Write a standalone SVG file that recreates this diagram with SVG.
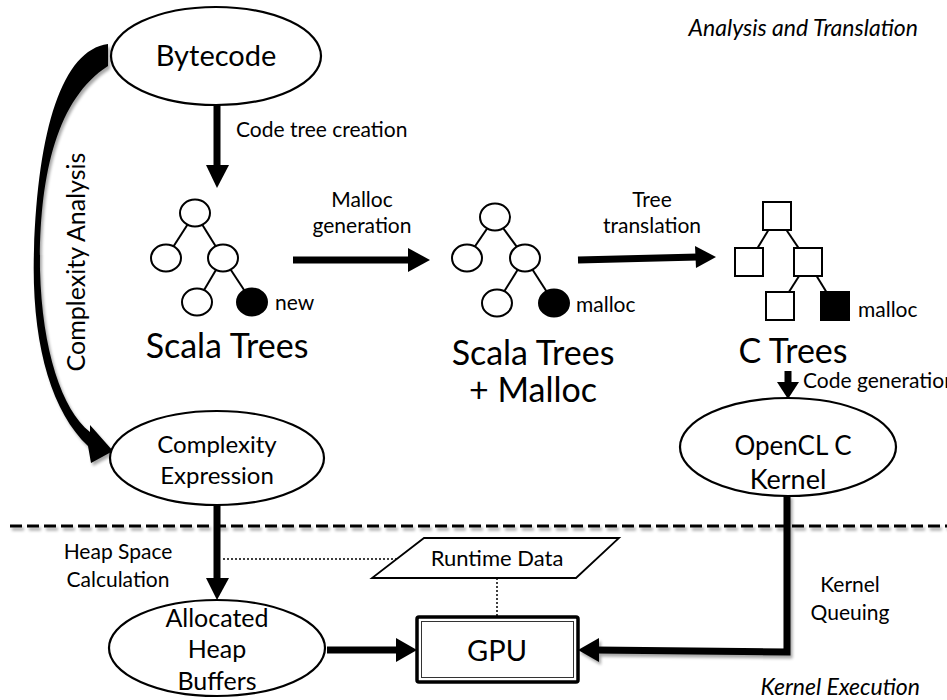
<svg xmlns="http://www.w3.org/2000/svg" width="947" height="700" viewBox="0 0 947 700">
  <style>
    text { font-family: Lato, "Open Sans", "Liberation Sans", sans-serif; fill: #000; }
    .node { fill: #fff; stroke: #000; stroke-width: 2.2; }
    .lbl { font-size: 21px; }
    .big { font-size: 34px; }
    .ttl { font-size: 23px; font-style: italic; }
    .tree { stroke: #000; stroke-width: 2; }
    .leaf { fill: #fff; stroke: #000; stroke-width: 2; }
    .full { fill: #000; stroke: #000; stroke-width: 2; }
    .shaft { stroke: #000; stroke-width: 7; fill: none; }
    .head { fill: #000; }
    .dot { stroke: #000; stroke-width: 1.5; stroke-dasharray: 2 2; fill: none; }
  </style>
  <defs>
    <!-- soft drop shadow used on the separator and the long connectors -->
    <filter id="shadow" filterUnits="userSpaceOnUse" x="0" y="0" width="947" height="700">
      <feGaussianBlur in="SourceAlpha" stdDeviation="1.5"/>
      <feOffset dx="2" dy="2.5" result="off"/>
      <feComponentTransfer><feFuncA type="linear" slope="0.35"/></feComponentTransfer>
      <feMerge><feMergeNode/><feMergeNode in="SourceGraphic"/></feMerge>
    </filter>
  </defs>

  <!-- section titles and separator -->
  <text class="ttl" x="918" y="36" text-anchor="end">Analysis and Translation</text>
  <text class="ttl" x="920" y="695" text-anchor="end">Kernel Execution</text>
  <line x1="10" y1="526" x2="947" y2="526" stroke="#000" stroke-width="3" stroke-dasharray="12 5" filter="url(#shadow)"/>

  <g id="connectors">
    <!-- Bytecode -> Scala Trees -->
    <line class="shaft" x1="217" y1="105" x2="217" y2="168"/>
    <polygon class="head" points="206,165 229,165 217,188"/>
    <text class="lbl" x="236" y="137">Code tree creation</text>

    <!-- Scala Trees -> Scala Trees + Malloc -->
    <line class="shaft" x1="293" y1="260" x2="410" y2="260"/>
    <polygon class="head" points="408,248 408,272 430,260"/>
    <text class="lbl" x="362" y="207" text-anchor="middle">Malloc</text>
    <text class="lbl" x="362" y="233" text-anchor="middle">generation</text>

    <!-- Scala Trees + Malloc -> C Trees -->
    <line class="shaft" x1="578" y1="260" x2="698" y2="257"/>
    <polygon class="head" points="695,246 696,268 716,257"/>
    <text class="lbl" x="652" y="207" text-anchor="middle">Tree</text>
    <text class="lbl" x="652" y="233" text-anchor="middle">translation</text>

    <!-- C Trees -> OpenCL C Kernel -->
    <line class="shaft" x1="788" y1="371" x2="788" y2="384"/>
    <polygon class="head" points="777,382 799,382 788,399"/>
    <text class="lbl" x="803" y="388">Code generation</text>

    <!-- Bytecode -> Complexity Expression (curved, tapered) -->
    <path class="head" filter="url(#shadow)" d="M108,44 C62,50 38,130 34,250 C31,340 50,410 88,446 L91,463 L113,451 L90,425 L90,432 C62,410 42,350 40,270 C39,180 55,100 108,66 Z"/>
    <text transform="translate(85,262) rotate(-90)" text-anchor="middle" style="font-size:25px">Complexity Analysis</text>

    <!-- Complexity Expression -> Allocated Heap Buffers -->
    <line class="shaft" x1="217" y1="505" x2="217" y2="580"/>
    <polygon class="head" points="206,578 229,578 217,600"/>
    <text class="lbl" x="118" y="559" text-anchor="middle">Heap Space</text>
    <text class="lbl" x="118" y="587" text-anchor="middle">Calculation</text>

    <!-- runtime data links -->
    <line class="dot" x1="223" y1="559" x2="397" y2="559"/>
    <line class="dot" x1="497" y1="578" x2="497" y2="617"/>

    <!-- Allocated Heap Buffers -> GPU -->
    <line class="shaft" x1="327" y1="650" x2="398" y2="650"/>
    <polygon class="head" points="396,638 396,662 417,650"/>

    <!-- OpenCL C Kernel -> GPU -->
    <g filter="url(#shadow)">
      <polyline class="shaft" points="787,495 787,652 596,650"/>
      <polygon class="head" points="599,638 599,662 578,650"/>
    </g>
    <text class="lbl" x="850" y="592" text-anchor="middle">Kernel</text>
    <text class="lbl" x="850" y="620" text-anchor="middle">Queuing</text>
  </g>

  <g id="bytecode">
    <ellipse class="node" cx="216" cy="56" rx="105" ry="49"/>
    <text x="216" y="66" text-anchor="middle" style="font-size:29px">Bytecode</text>
  </g>

  <g id="scala-trees">
    <line class="tree" x1="195" y1="213" x2="166" y2="258"/>
    <line class="tree" x1="195" y1="213" x2="223" y2="258"/>
    <line class="tree" x1="223" y1="258" x2="197" y2="302"/>
    <line class="tree" x1="223" y1="258" x2="252" y2="302"/>
    <ellipse class="leaf" cx="195" cy="213" rx="15" ry="13.5"/>
    <ellipse class="leaf" cx="166" cy="258" rx="15" ry="13.5"/>
    <ellipse class="leaf" cx="223" cy="258" rx="15" ry="13.5"/>
    <ellipse class="leaf" cx="197" cy="302" rx="15" ry="13.5"/>
    <ellipse class="full" cx="252" cy="302" rx="15" ry="13.5"/>
    <text class="lbl" x="275" y="310">new</text>
    <text class="big" x="227" y="358" text-anchor="middle">Scala Trees</text>
  </g>

  <g id="scala-trees-malloc">
    <line class="tree" x1="495" y1="217" x2="467" y2="258"/>
    <line class="tree" x1="495" y1="217" x2="525" y2="258"/>
    <line class="tree" x1="525" y1="258" x2="497" y2="303"/>
    <line class="tree" x1="525" y1="258" x2="554" y2="303"/>
    <ellipse class="leaf" cx="495" cy="217" rx="15" ry="13.5"/>
    <ellipse class="leaf" cx="467" cy="258" rx="15" ry="13.5"/>
    <ellipse class="leaf" cx="525" cy="258" rx="15" ry="13.5"/>
    <ellipse class="leaf" cx="497" cy="303" rx="15" ry="13.5"/>
    <ellipse class="full" cx="554" cy="303" rx="15" ry="13.5"/>
    <text class="lbl" x="576" y="312">malloc</text>
    <text class="big" x="533" y="365" text-anchor="middle">Scala Trees</text>
    <text class="big" x="533" y="402" text-anchor="middle">+ Malloc</text>
  </g>

  <g id="c-trees">
    <line class="tree" x1="777" y1="216" x2="749" y2="262"/>
    <line class="tree" x1="777" y1="216" x2="808" y2="262"/>
    <line class="tree" x1="808" y1="262" x2="780" y2="306"/>
    <line class="tree" x1="808" y1="262" x2="835" y2="306"/>
    <rect class="leaf" x="763" y="202" width="28" height="28"/>
    <rect class="leaf" x="735" y="248" width="28" height="28"/>
    <rect class="leaf" x="794" y="248" width="28" height="28"/>
    <rect class="leaf" x="766" y="292" width="28" height="28"/>
    <rect class="full" x="821" y="292" width="28" height="28"/>
    <text class="lbl" x="858" y="317">malloc</text>
    <text class="big" x="793" y="363" text-anchor="middle">C Trees</text>
  </g>

  <g id="complexity-expression">
    <ellipse class="node" cx="217" cy="458" rx="107" ry="47"/>
    <text x="217" y="453" text-anchor="middle" style="font-size:24px">Complexity</text>
    <text x="217" y="484" text-anchor="middle" style="font-size:24px">Expression</text>
  </g>

  <g id="opencl-kernel">
    <ellipse class="node" cx="788" cy="447" rx="108" ry="49"/>
    <text x="793" y="455" text-anchor="middle" style="font-size:26px">OpenCL C</text>
    <text x="788" y="489" text-anchor="middle" style="font-size:27px">Kernel</text>
  </g>

  <g id="runtime-data">
    <polygon class="node" points="424,538 619,538 576,578 372,578" style="stroke-width:1.8"/>
    <text x="497" y="566" text-anchor="middle" style="font-size:22px">Runtime Data</text>
  </g>

  <g id="allocated-heap-buffers">
    <ellipse class="node" cx="217" cy="648" rx="108" ry="48"/>
    <text x="217" y="627" text-anchor="middle" style="font-size:25px">Allocated</text>
    <text x="217" y="658" text-anchor="middle" style="font-size:25px">Heap</text>
    <text x="217" y="690" text-anchor="middle" style="font-size:25px">Buffers</text>
  </g>

  <g id="gpu">
    <rect x="417" y="617" width="161" height="65" fill="#fff" stroke="#000" stroke-width="3.5" rx="2"/>
    <rect x="421.5" y="621.5" width="152" height="56" fill="none" stroke="#333" stroke-width="1"/>
    <text x="497" y="661" text-anchor="middle" style="font-size:29px">GPU</text>
  </g>
</svg>
